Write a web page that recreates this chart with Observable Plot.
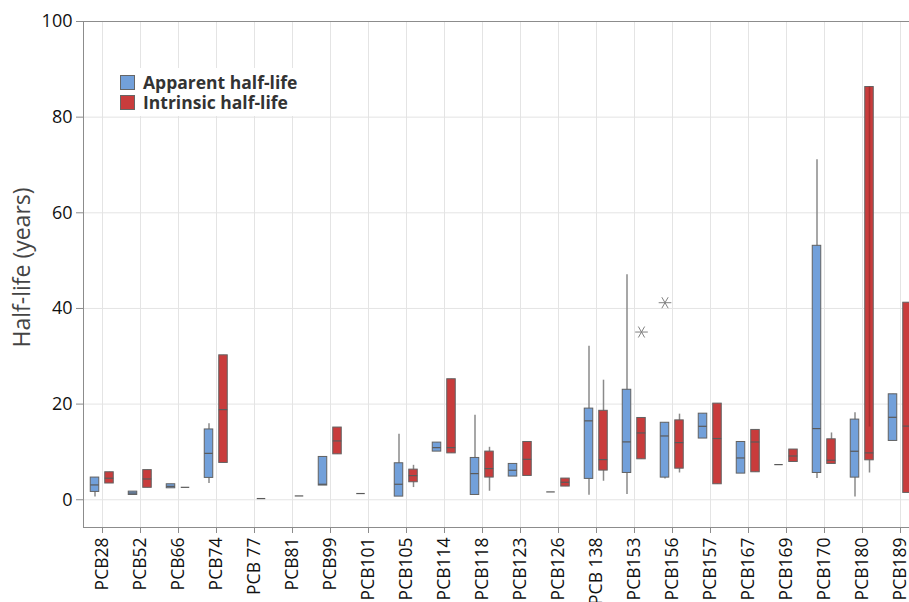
<!DOCTYPE html>
<html>
<head>
<meta charset="utf-8">
<script src="https://cdn.jsdelivr.net/npm/d3@7"></script>
<script src="https://cdn.jsdelivr.net/npm/@observablehq/plot@0.6"></script>
<style>
  html, body { margin: 0; padding: 0; background: white; overflow: hidden; }
  #wrap { position: relative; width: 909px; height: 602px; font-family: "Open Sans", sans-serif; }
  #legend { position: absolute; left: 112px; top: 68px; background: white; padding: 4px 10px 4px 8px; }
  .row { display: flex; align-items: center; height: 20px; }
  .sw { width: 13px; height: 13px; border: 1px solid #666; margin-right: 8px; }
  .lt { font-weight: 700; font-size: 17.5px; color: #333; line-height: 20px; white-space: nowrap; }
</style>
</head>
<body>
<div id="wrap"></div>
<script>
const categories = ["PCB28","PCB52","PCB66","PCB74","PCB 77","PCB81","PCB99","PCB101","PCB105","PCB114","PCB118","PCB123","PCB126","PCB 138","PCB153","PCB156","PCB157","PCB167","PCB169","PCB170","PCB180","PCB189"];

// Apparent half-life (blue)
const appLow  = [0.6, 1.0, 2.4, 3.4, null, null, 2.97, 1.3, 0.66, 10.07, 1.0, 4.85, 1.64, 0.94, 1.08, 4.36, 12.8, 5.47, 7.35, 4.43, 0.6, 12.3];
const appQ1   = [1.64, 1.0, 2.4, 4.57, null, null, 2.97, 1.3, 0.66, 10.07, 1.0, 4.85, 1.64, 4.36, 5.6, 4.63, 12.8, 5.47, 7.35, 5.6, 4.63, 12.3];
const appMed  = [3.1, 1.4, 2.8, 9.7, null, null, 3.24, 1.3, 3.24, 10.9, 5.47, 6.17, 1.64, 16.5, 12.1, 13.34, 15.36, 8.74, 7.35, 14.88, 10.14, 17.24];
const appQ3   = [4.64, 1.7, 3.24, 14.7, null, null, 8.95, 1.3, 7.63, 11.95, 8.74, 7.49, 1.64, 19.06, 23.0, 16.1, 18.0, 12.08, 7.35, 53.1, 16.76, 22.05];
const appHigh = [4.64, 1.7, 3.24, 15.9, null, null, 8.95, 1.3, 13.7, 11.95, 17.66, 7.49, 1.64, 32.1, 47.06, 16.1, 18.0, 12.08, 7.35, 71.1, 18.2, 22.05];
const appOutlier = [null, null, null, null, null, null, null, null, null, null, null, null, null, null, null, 41.2, null, null, null, null, null, null];

// Intrinsic half-life (red)
const intLow  = [3.4, 2.5, 2.6, 7.7, 0.25, 0.8, 9.5, null, 2.55, 9.7, 1.78, 4.98, 2.76, 3.87, 8.46, 5.6, 3.24, 5.75, 7.9, 7.49, 5.6, 1.43];
const intQ1   = [3.4, 2.5, 2.6, 7.7, 0.25, 0.8, 9.5, null, 3.66, 9.7, 4.64, 4.98, 2.76, 6.1, 8.46, 6.5, 3.24, 5.75, 7.9, 7.49, 8.25, 1.43];
const intMed  = [4.5, 4.35, 2.6, 18.85, 0.25, 0.8, 12.3, null, 5.05, 10.9, 6.52, 8.46, 3.66, 8.4, 13.97, 11.95, 12.8, 12.08, 9.15, 8.26, 9.8, 15.4];
const intQ3   = [5.75, 6.2, 2.6, 30.2, 0.25, 0.8, 15.1, null, 6.3, 25.2, 10.07, 12.08, 4.43, 18.6, 17.1, 16.6, 20.1, 14.6, 10.5, 12.64, 86.3, 41.2];
const intHigh = [5.75, 6.2, 2.6, 30.2, 0.25, 0.8, 15.1, null, 7.2, 25.2, 10.97, 12.08, 4.43, 25.0, 17.1, 17.9, 20.1, 14.6, 10.5, 13.97, 86.3, 41.2];
const intOutlier = [null, null, null, null, null, null, null, null, null, null, null, null, null, null, 35.07, null, null, null, null, null, null, null];
const intInnerLow = [null, null, null, null, null, null, null, null, null, null, null, null, null, null, null, null, null, null, null, null, 15.2, null];

const yTicks = [0, 20, 40, 60, 80, 100];
const seriesNames = ["Apparent half-life", "Intrinsic half-life"];
const seriesColors = ["#72a0da", "#c93c3c"];

function table(low, q1, med, q3, high, out) {
  return categories.map((cat, i) => ({cat, low: low[i], q1: q1[i], med: med[i], q3: q3[i], high: high[i], out: out[i]}));
}
const appRows = table(appLow, appQ1, appMed, appQ3, appHigh, appOutlier);
const intRows = table(intLow, intQ1, intMed, intQ3, intHigh, intOutlier);
const innerRows = categories.map((cat, i) => ({cat, low: intInnerLow[i], high: intQ3[i]})).filter(d => d.low != null);

const W = 909, H = 602, mL = 83, mR = -10, mT = 21, mB = 75;
const bw = (W - mL - mR) / categories.length;
const boxW = 8.5;
const inset = (bw - boxW) / 2;

function boxMarks(rows, dx, fill) {
  const has = rows.filter(d => d.med != null);
  return [
    Plot.ruleX(has, {x: "cat", y1: "low", y2: "high", dx, stroke: "#8a8a8a", strokeWidth: 1.5}),
    Plot.barY(has.filter(d => d.q3 > d.q1), {x: "cat", y1: "q1", y2: "q3", dx, insetLeft: inset, insetRight: inset, fill, stroke: "#626262", strokeWidth: 1}),
    Plot.tickY(has, {x: "cat", y: "med", dx, insetLeft: inset, insetRight: inset, stroke: "#5a5a5a", strokeWidth: 1.2}),
    Plot.dot(rows.filter(d => d.out != null), {x: "cat", y: "out", dx, symbol: "asterisk", rotate: 90, r: 6, stroke: "#808080", strokeWidth: 1})
  ];
}

const chart = Plot.plot({
  width: W, height: H,
  marginLeft: mL, marginRight: mR, marginTop: mT, marginBottom: mB,
  style: {fontFamily: "Open Sans, sans-serif", fontSize: "17px", background: "white", color: "#111"},
  x: {type: "band", domain: categories, padding: 0, label: null},
  y: {domain: [-5.8, 100], label: null},
  marks: [
    Plot.gridX({stroke: "#e4e4e4", strokeOpacity: 1, strokeWidth: 1}),
    Plot.gridY(yTicks.slice(0, 5), {stroke: "#e4e4e4", strokeOpacity: 1, strokeWidth: 1}),
    Plot.frame({stroke: "#8c8c8c"}),
    ...boxMarks(appRows, -7.5, seriesColors[0]),
    ...boxMarks(intRows, 7, seriesColors[1]),
    Plot.ruleX(innerRows, {x: "cat", y1: "low", y2: "high", dx: 7, stroke: "#9e2b2b", strokeWidth: 1.5, strokeOpacity: 0.8}),
    Plot.axisX({tickRotate: -90, tickSize: 6, tickPadding: 4, fontSize: 17.5, stroke: "#8c8c8c", fill: "#111", label: null}),
    Plot.axisY({ticks: yTicks, tickSize: 7, tickPadding: 4, fontSize: 18, stroke: "#8c8c8c", fill: "#111", label: null}),
    Plot.text(["Half-life (years)"], {frameAnchor: "left", dx: -61, dy: -7, rotate: -90, fontSize: 23, fill: "#444", textAnchor: "middle", lineAnchor: "middle"})
  ]
});

const wrap = document.getElementById("wrap");
wrap.appendChild(chart);
const legend = document.createElement("div");
legend.id = "legend";
legend.innerHTML = seriesNames.map((n, i) => `<div class="row"><div class="sw" style="background:${seriesColors[i]}"></div><span class="lt">${n}</span></div>`).join("");
wrap.appendChild(legend);
</script>
</body>
</html>
